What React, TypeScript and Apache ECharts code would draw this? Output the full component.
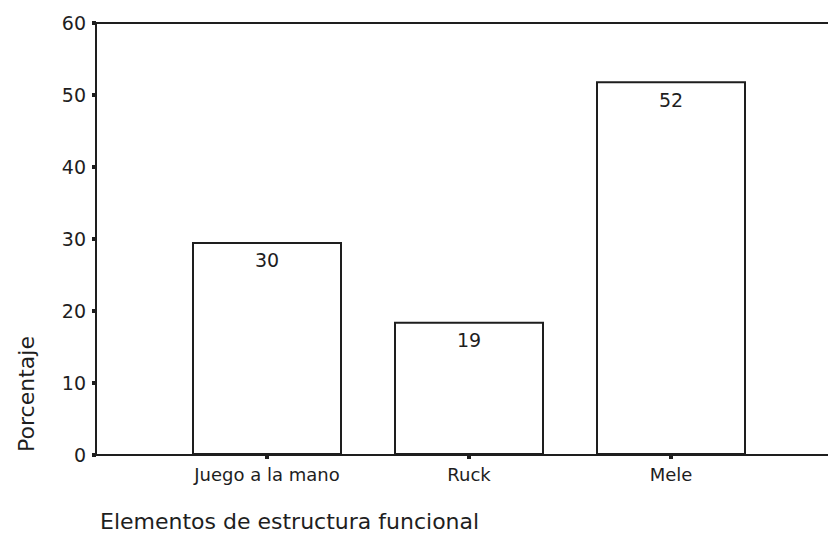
import React, { useEffect, useRef } from "react";
import * as echarts from "echarts";

const categories = ["Juego a la mano", "Ruck", "Mele"];
const percentages = [29.6, 18.5, 51.9];
const yMin = 0;
const yMax = 60;
const yInterval = 10;
const yAxisTitle = "Porcentaje";
const xAxisTitle = "Elementos de estructura funcional";

const FONT = "DejaVu Sans";
const INK = "#1e1e1e";

export default function App() {
  const ref = useRef<HTMLDivElement>(null);
  useEffect(() => {
    if (!ref.current) return;
    const chart = echarts.init(ref.current, undefined, { renderer: "svg" });
    const top = 23;
    const bottom = 95;
    const frameLine = { show: true, lineStyle: { color: INK, width: 2 } };
    chart.setOption({
      animation: false,
      backgroundColor: "#ffffff",
      grid: [
        { left: 96, right: 0, top, bottom },
        { left: 166, right: 56, top, bottom },
      ],
      xAxis: [
        {
          gridIndex: 0, type: "value", min: 0, max: 1, position: "bottom",
          axisLine: frameLine, axisTick: { show: false }, axisLabel: { show: false }, splitLine: { show: false },
        },
        {
          gridIndex: 1,
          type: "category",
          data: categories,
          axisLine: { show: false },
          axisTick: { show: true, alignWithLabel: true, length: 4, lineStyle: { color: INK, width: 4 } },
          axisLabel: { fontFamily: FONT, fontSize: 18, color: INK, margin: 10 },
        },
        {
          gridIndex: 0, type: "value", min: 0, max: 1, position: "top",
          axisLine: frameLine, axisTick: { show: false }, axisLabel: { show: false }, splitLine: { show: false },
        },
      ],
      yAxis: [
        {
          gridIndex: 0,
          type: "value",
          min: yMin,
          max: yMax,
          interval: yInterval,
          axisLine: frameLine,
          axisTick: { show: true, length: 4, lineStyle: { color: INK, width: 4 } },
          axisLabel: { fontFamily: FONT, fontSize: 19, color: INK, margin: 10 },
          splitLine: { show: false },
        },
        { gridIndex: 1, type: "value", min: yMin, max: yMax, interval: yInterval, show: false },
      ],
      series: [
        {
          type: "bar",
          xAxisIndex: 1,
          yAxisIndex: 1,
          data: percentages,
          barWidth: 150,
          itemStyle: { color: "#ffffff", borderColor: INK, borderWidth: 2 },
          label: {
            show: true,
            position: "insideTop",
            distance: 9,
            fontFamily: FONT,
            fontSize: 19,
            color: INK,
            formatter: (p: any) => String(Math.round(p.value)),
          },
        },
      ],
      graphic: [
        {
          type: "text",
          x: 26,
          y: 394,
          rotation: Math.PI / 2,
          style: { text: yAxisTitle, fontFamily: FONT, fontSize: 22, fill: INK, align: "center", verticalAlign: "middle" },
        },
        {
          type: "text",
          x: 100,
          y: 521,
          style: { text: xAxisTitle, fontFamily: FONT, fontSize: 22, fill: INK, align: "left", verticalAlign: "middle" },
        },
      ],
    });
    return () => chart.dispose();
  }, []);
  return <div ref={ref} style={{ width: 828, height: 550, position: "absolute", left: 0, top: 0 }} />;
}
